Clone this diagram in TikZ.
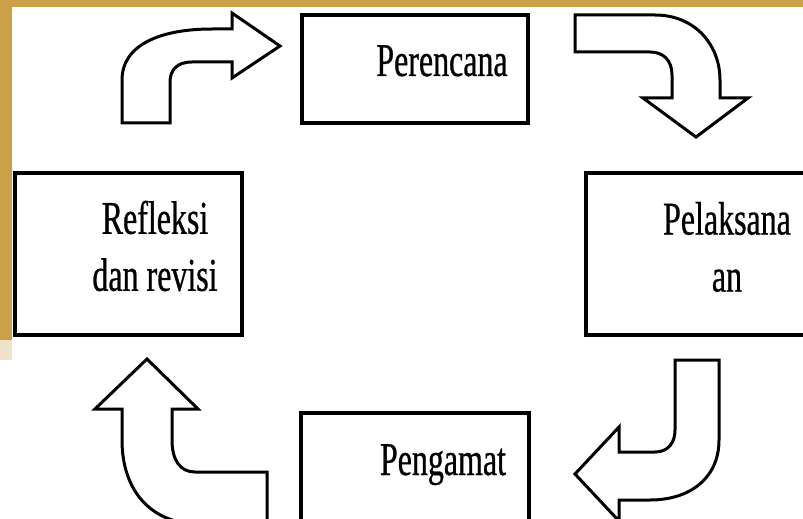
\documentclass[tikz,border=0pt]{standalone}
\usepackage{fontspec}
\newfontfamily\boxfont[FakeStretch=0.68, FakeBold=0.6]{Liberation Serif}
\definecolor{gold}{RGB}{204,160,72}
\tikzset{
  box/.style={draw=black, line width=2.2pt, fill=white},
  blockarrow/.style={draw=black, line width=1.5pt, fill=white, line join=miter},
  label/.style={font=\boxfont\fontsize{23.5}{28.5}\selectfont, inner sep=0pt, align=center}
}
\begin{document}
\begin{tikzpicture}[x=0.5pt, y=-0.5pt]
                \useasboundingbox (0,0) rectangle (803,519);
                \clip (0,0) rectangle (803,519);
                \fill[white] (0,0) rectangle (803,519);
                \fill[gold] (0,0) rectangle (803,7); % latar belakang
                \fill[gold] (0,0) rectangle (12,340);
                \fill[gold!30!white] (0,340) rectangle (12,360);
                \draw[box] (302,15) rectangle (528,123) coordinate (plan);
                \draw[box] (15,173) rectangle (242,335) coordinate (refl);
                \draw[box] (586,173) rectangle (812,335) coordinate (exec);
                \draw[box] (301,413) rectangle (529,530) coordinate (obs);
                \node[label, anchor=base] (planT) at (442,76) {Perencana};
                \node[label] (reflT) at (155,246) {Refleksi\\dan revisi};
                \node[label] (execT) at (727,247) {Pelaksana\\an};
                \node[label, anchor=base] (obsT) at (443,475) {Pengamat};
                % panah lengkung
                \draw[blockarrow] (122,123) -- (122,80) .. controls (122,45) and (160,29) .. (212,29)
                    -- (232,29) -- (232,13) -- (280,46) -- (232,78) -- (232,62) -- (192,62)
                    .. controls (177,62) and (170,70) .. (170,82) -- (170,123) -- cycle;
                \draw[blockarrow] (575,15) -- (655,15) .. controls (695,15) and (720,45) .. (720,80)
                    -- (720,98) -- (748,98) -- (696,137) -- (643,98) -- (672,98) -- (672,75)
                    .. controls (672,60) and (663,52) .. (650,52) -- (575,52) -- cycle;
                \draw[blockarrow] (675,360) -- (719,360) -- (719,440) .. controls (719,478) and (690,500) .. (650,500)
                    -- (619,500) -- (619,521) -- (575,474) -- (619,427) -- (619,452) -- (655,452)
                    .. controls (668,452) and (675,443) .. (675,430) -- cycle;
                \draw[blockarrow] (267,530) -- (267,472) -- (195,472) .. controls (180,472) and (172,460) .. (172,440)
                    -- (172,409) -- (198,409) -- (147,359) -- (95,409) -- (122,409) -- (122,440)
                    .. controls (122,490) and (150,522) .. (195,524) -- (267,524) -- cycle;
\end{tikzpicture}
\end{document}
